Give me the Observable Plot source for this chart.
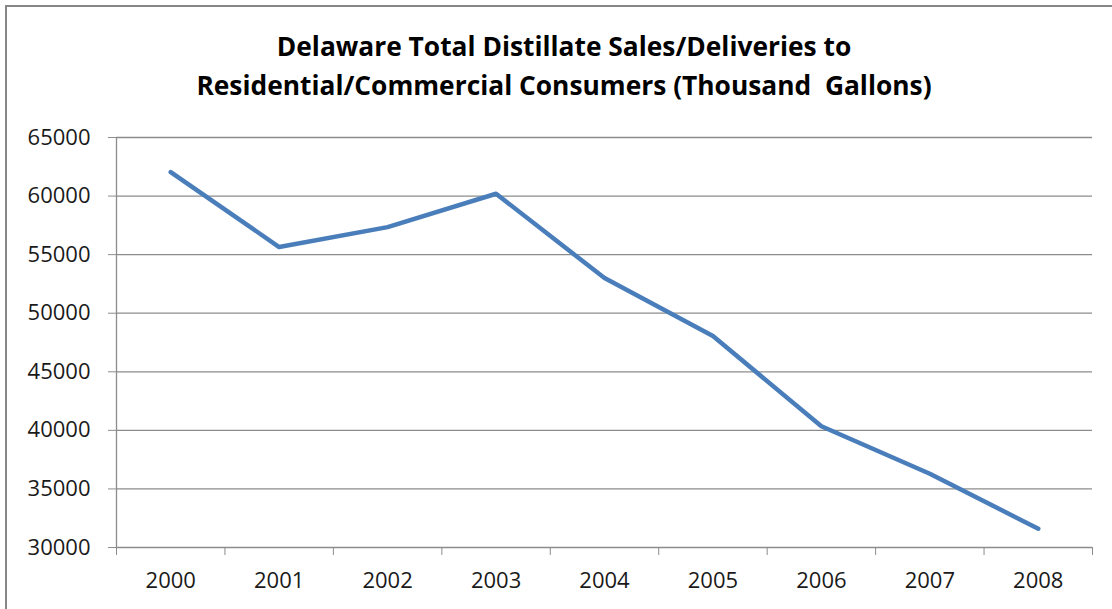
<!DOCTYPE html>
<html><head><meta charset="utf-8">
<script src="https://cdn.jsdelivr.net/npm/d3@7"></script>
<script src="https://cdn.jsdelivr.net/npm/@observablehq/plot@0.6"></script>
<style>
html,body{margin:0;padding:0;background:#fff;overflow:hidden;}
#wrap{position:relative;width:1112px;height:609px;overflow:hidden;background:#fff;}
#frame{position:absolute;left:5px;top:5px;width:1200px;height:700px;border:2px solid #878787;box-sizing:border-box;}
#title{position:absolute;left:0;top:27px;width:1128px;text-align:center;font-family:"Open Sans";font-weight:bold;font-size:26px;line-height:38.5px;color:#000;white-space:pre;transform:scaleX(1.013);transform-origin:564px 0;}
#chart{position:absolute;left:0;top:110px;}
</style></head><body>
<div id="wrap"><div id="frame"></div><div id="title">Delaware Total Distillate Sales/Deliveries to
Residential/Commercial Consumers (Thousand  Gallons)</div><div id="chart"></div></div>
<script>
const years = ["2000","2001","2002","2003","2004","2005","2006","2007","2008"];
const sales = [62050, 55650, 57350, 60200, 53000, 48050, 40350, 36300, 31600];
const yTicks = [30000, 35000, 40000, 45000, 50000, 55000, 60000, 65000];

const idx = years.map((_, i) => i);
const bounds = d3.range(years.length + 1).map(i => i - 0.5);
const data = years.map((y, i) => ({i, year: y, v: sales[i]}));

const chart = Plot.plot({
  width: 1112, height: 499,
  marginLeft: 116, marginRight: 20, marginTop: 27, marginBottom: 62,
  style: {fontFamily: "Open Sans", fontSize: "22px", color: "#1a1a1a", background: "transparent", overflow: "visible"},
  x: {type: "linear", domain: [-0.5, years.length - 0.5]},
  y: {domain: [30000, 65000]},
  marks: [
    Plot.gridY(yTicks, {stroke: "#8c8c8c", strokeOpacity: 1, strokeWidth: 1.3}),
    Plot.ruleX([-0.5], {stroke: "#8c8c8c", strokeOpacity: 1, strokeWidth: 1.3}),
    Plot.axisY(yTicks, {tickSize: 8, tickPadding: 18, stroke: "#8c8c8c", strokeOpacity: 1, label: null, tickFormat: d => String(d), fill: "#1a1a1a"}),
    Plot.axisX(bounds, {tickSize: 8, tickFormat: () => "", stroke: "#8c8c8c", strokeOpacity: 1, label: null}),
    Plot.axisX(idx, {tickSize: 0, tickPadding: 25, tickFormat: i => years[i], label: null, fill: "#1a1a1a"}),
    Plot.line(data, {x: "i", y: "v", stroke: "#4a7ebb", strokeWidth: 4.5, strokeLinejoin: "round", strokeLinecap: "round"})
  ]
});
document.getElementById("chart").appendChild(chart);
</script>
</body></html>
